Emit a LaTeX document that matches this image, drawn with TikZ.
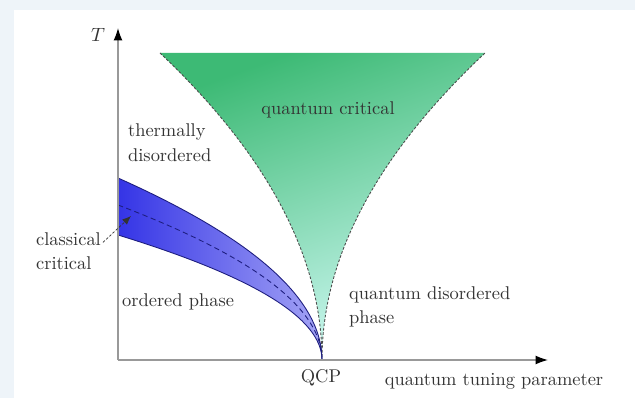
\documentclass[tikz,border=0pt]{standalone}
\usetikzlibrary{arrows.meta}
\definecolor{frameblue}{HTML}{EEF4F9}
\definecolor{qcdark}{HTML}{3DBA75}
\definecolor{qclight}{HTML}{D2FAF6}
\definecolor{banddark}{HTML}{3434E6}
\definecolor{bandlight}{HTML}{A4A4F5}
\definecolor{labelgray}{HTML}{333333}
\begin{document}
\begin{tikzpicture}[x=0.02cm,y=-0.02cm,font=\fontsize{10.5}{14}\selectfont,
  crossover/.style={dash pattern=on 1.5pt off 1pt,line width=0.5pt,black!70},
  axisline/.style={gray!80,line width=0.7pt,-{Latex[length=7pt,width=5pt,black]}},
  bandedge/.style={banddark!55!black,line width=0.5pt},
  lbl/.style={text=labelgray,inner sep=1pt}]
\fill[frameblue] (0,0) rectangle (635,398);
\fill[white] (14,10) rectangle (635,398);
\useasboundingbox (0,0) rectangle (635,398);
\coordinate (orig) at (118,360);
\coordinate (qcp) at (322,360);
\coordinate (ytip) at (118,28);
\coordinate (xtip) at (548,360);
\coordinate (fanl) at (160,53);
\coordinate (fanr) at (485,53);
% quantum critical fan
\shade[top color=qcdark,bottom color=qclight,shading angle=20]
  (fanl) -- (fanr) .. controls (376.3,155.3) and (322,257.7) .. (qcp)
  .. controls (322,257.7) and (268,155.3) .. cycle;
\draw[crossover] (fanl) .. controls (268,155.3) and (322,257.7) .. (qcp)
  .. controls (322,257.7) and (376.3,155.3) .. (fanr);
% classical critical band
\shade[left color=banddark,right color=bandlight]
  (118,178) .. controls (254,238.7) and (322,299.3) .. (qcp)
  .. controls (322,318.3) and (254,276.7) .. (118,235) -- cycle;
\draw[bandedge] (118,178) .. controls (254,238.7) and (322,299.3) .. (qcp)
  .. controls (322,318.3) and (254,276.7) .. (118,235);
\draw[bandedge,dash pattern=on 3pt off 2pt] (118,205) .. controls (254,256.7) and (322,308.3) .. (qcp);
% axes
\draw[axisline] (orig) -- (ytip);
\draw[axisline] (orig) -- (xtip);
\node[lbl] (tlabel) at (98,35) {$T$};
\node[lbl] (qcplabel) at (321,378) {QCP};
\node[lbl] (tuning) at (494,381) {quantum tuning parameter};
% regions
\node[lbl] (qcrit) at (328,110) {quantum critical};
\node[lbl,anchor=west,align=left] (thermal) at (126,143) {thermally\\disordered};
\node[lbl,anchor=west] (ordered) at (120,302) {ordered phase};
\node[lbl,anchor=west,align=left] (qdis) at (347,307) {quantum disordered\\phase};
\node[lbl,anchor=west,align=left] (classical) at (34,251) {classical\\critical};
\coordinate (ccpoint) at (131,216);
\draw[black!80,line width=0.4pt,dash pattern=on 1.5pt off 1pt,-{Latex[length=5pt,width=4pt]}]
  ([yshift=-7pt]classical.north east) -- (ccpoint);
\end{tikzpicture}
\end{document}
